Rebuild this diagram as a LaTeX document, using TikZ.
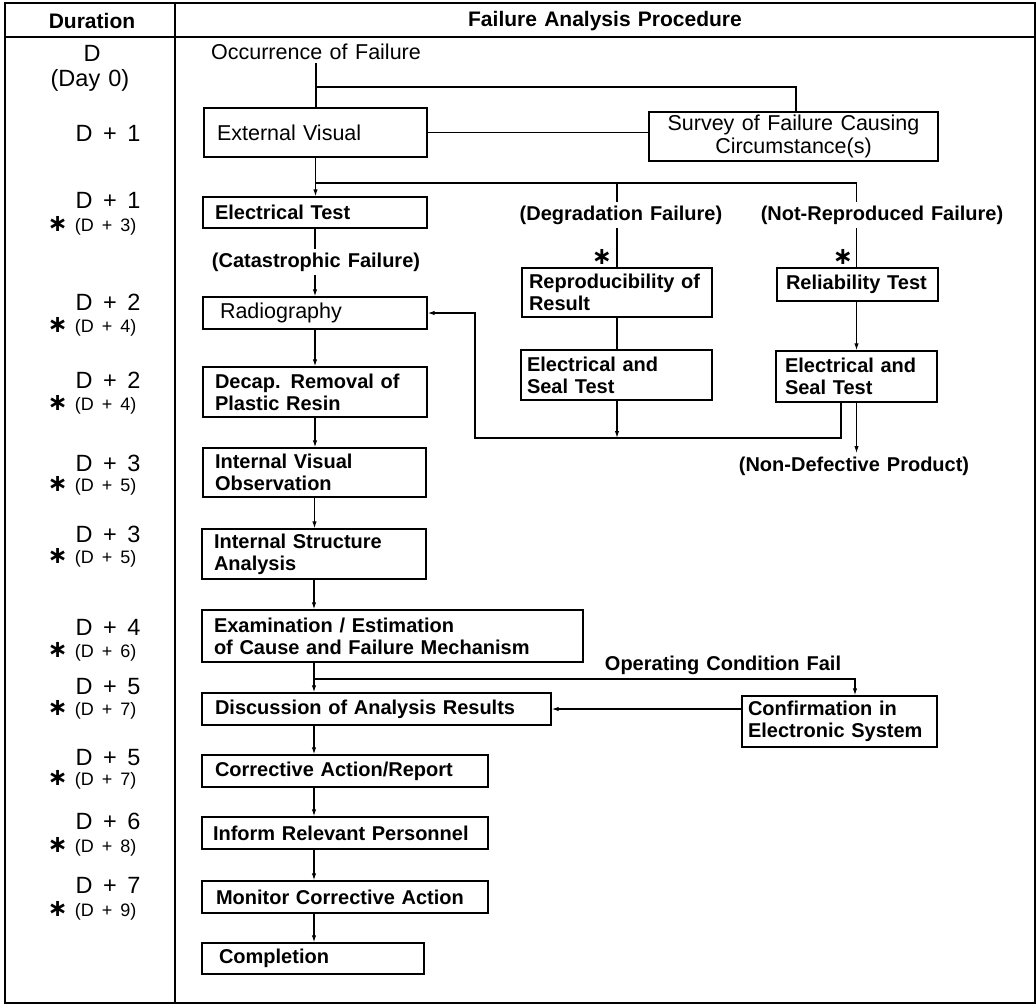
\documentclass[tikz,border=0pt]{standalone}
\usepackage{fontspec}
\setmainfont[WordSpace=1.25]{Liberation Sans}
\newfontfamily\symfont{DejaVu Sans}
\usetikzlibrary{arrows.meta}
% bold six-armed asterisk used as a footnote mark
\newcommand\astb{{\symfont\bfseries\fontsize{24}{24}\selectfont ∗}}
\newcommand\dplus[1]{D\hspace{0.45em}+\hspace{0.45em}#1}
\begin{document}
\begin{tikzpicture}[x=1pt,y=-1pt,
  frame/.style={line width=1.6pt},
  pbox/.style={draw, line width=1.3pt, align=left, inner ysep=0pt},
  lt/.style={font=\fontsize{21.5}{23}\selectfont},
  bf/.style={font=\fontsize{20}{22}\selectfont\bfseries},
  hd/.style={font=\fontsize{21}{22}\selectfont\bfseries},
  link/.style={line width=1.2pt},
  arr/.style={link, -{Latex[length=7pt,width=4.4pt]}},
  day/.style={anchor=east, font=\fontsize{23.5}{24}\selectfont},
  alt/.style={anchor=east, font=\fontsize{18}{20}\selectfont},
  star/.style={inner sep=0pt},
]
\useasboundingbox (0,0) rectangle (1036,1005);

% table frame
\draw[frame] (5,3) rectangle (1035,1003);
\draw[frame] (5,37) -- (1035,37);
\draw[frame] (175,3) -- (175,1003);

% headings
\node[hd] (hdur) at (92,21) {Duration};
\node[hd] (hproc) at (605,21) {Failure Analysis Procedure};

% duration column
\node[font=\fontsize{23.5}{24}\selectfont] (d0) at (92,53) {D};
\node[font=\fontsize{23.5}{24}\selectfont] (d0b) at (90,80) {(Day 0)};
\node[day] (d1) at (144,133) {\dplus{1}};
\node[day] (d2) at (144,200) {\dplus{1}};
\node[alt] (a2) at (140,226) {\astb\hspace{7pt}(\dplus{3})};
\node[day] (d3) at (144,302) {\dplus{2}};
\node[alt] (a3) at (140,327) {\astb\hspace{7pt}(\dplus{4})};
\node[day] (d4) at (144,380) {\dplus{2}};
\node[alt] (a4) at (140,405) {\astb\hspace{7pt}(\dplus{4})};
\node[day] (d5) at (144,463) {\dplus{3}};
\node[alt] (a5) at (140,486) {\astb\hspace{7pt}(\dplus{5})};
\node[day] (d6) at (144,534) {\dplus{3}};
\node[alt] (a6) at (140,558) {\astb\hspace{7pt}(\dplus{5})};
\node[day] (d7) at (144,627) {\dplus{4}};
\node[alt] (a7) at (140,652) {\astb\hspace{7pt}(\dplus{6})};
\node[day] (d8) at (144,687) {\dplus{5}};
\node[alt] (a8) at (140,710) {\astb\hspace{7pt}(\dplus{7})};
\node[day] (d9) at (144,758) {\dplus{5}};
\node[alt] (a9) at (140,780) {\astb\hspace{7pt}(\dplus{7})};
\node[day] (d10) at (144,821) {\dplus{6}};
\node[alt] (a10) at (140,847) {\astb\hspace{7pt}(\dplus{8})};
\node[day] (d11) at (144,885) {\dplus{7}};
\node[alt] (a11) at (140,911) {\astb\hspace{7pt}(\dplus{9})};

% procedure: main column
\node[lt] (occ) at (316,52) {Occurrence of Failure};
\node[pbox, lt, minimum width=223pt, minimum height=49pt, inner xsep=13pt, text width=197pt] (ev) at (315.5,132.5) {External Visual};
\node[pbox, lt, align=center, minimum width=289pt, minimum height=49pt] (sv) at (793.5,136.5) {Survey of Failure Causing\\Circumstance(s)};
\node[pbox, bf, minimum width=224pt, minimum height=31pt, inner xsep=12pt, text width=200pt] (et) at (315,212.5) {Electrical Test};
\node[bf] (cat) at (316,262) {(Catastrophic Failure)};
\node[pbox, lt, minimum width=224pt, minimum height=32pt, inner xsep=17pt, text width=190pt] (rad) at (315,313) {Radiography};
\node[pbox, bf, minimum width=224pt, minimum height=50pt, inner xsep=12pt, text width=200pt] (dec) at (315,392) {Decap. Removal of\\Plastic Resin};
\node[pbox, bf, minimum width=223pt, minimum height=49pt, inner xsep=12pt, text width=199pt] (iv) at (314.5,472.5) {Internal Visual\\Observation};
\node[pbox, bf, minimum width=224pt, minimum height=50pt, inner xsep=12pt, text width=200pt] (is) at (314,554) {Internal Structure\\Analysis};
\node[pbox, bf, minimum width=381pt, minimum height=52pt, inner xsep=12pt, text width=357pt] (ex) at (392.5,636) {Examination / Estimation\\of Cause and Failure Mechanism};
\node[pbox, bf, minimum width=349pt, minimum height=32pt, inner xsep=13pt, text width=323pt] (dis) at (376.5,709) {Discussion of Analysis Results};
\node[pbox, bf, minimum width=286pt, minimum height=32pt, inner xsep=13pt, text width=260pt] (cor) at (345,771) {Corrective Action/Report};
\node[pbox, bf, minimum width=286pt, minimum height=32pt, inner xsep=11pt, text width=264pt] (inf) at (345,833) {Inform Relevant Personnel};
\node[pbox, bf, minimum width=286pt, minimum height=32pt, inner xsep=14pt, text width=258pt] (mon) at (345,897) {Monitor Corrective Action};
\node[pbox, bf, minimum width=222pt, minimum height=31pt, inner xsep=17pt, text width=188pt] (com) at (313,958.5) {Completion};

% procedure: side branches
\node[bf] (deg) at (621,215) {(Degradation Failure)};
\node[bf] (nr) at (882,215) {(Not-Reproduced Failure)};
\node[star] (s1) at (602,257) {\astb};
\node[star] (s2) at (843,257) {\astb};
\node[pbox, bf, minimum width=190pt, minimum height=49pt, inner xsep=7pt, text width=176pt] (rep) at (617,292.5) {Reproducibility of\\Result};
\node[pbox, bf, minimum width=191pt, minimum height=50pt, inner xsep=6pt, text width=179pt] (esl) at (616.5,375) {Electrical and\\Seal Test};
\node[pbox, bf, minimum width=161pt, minimum height=33pt, inner xsep=9pt, text width=143pt] (rel) at (857.5,284.5) {Reliability Test};
\node[pbox, bf, minimum width=161pt, minimum height=51pt, inner xsep=9pt, text width=143pt] (esr) at (856.5,376.5) {Electrical and\\Seal Test};
\node[bf] (nd) at (854,466) {(Non-Defective Product)};
\node[bf] (opc) at (723,665) {Operating Condition Fail};
\node[pbox, bf, minimum width=195pt, minimum height=51pt, inner xsep=6pt, text width=183pt] (cf) at (839.5,721.5) {Confirmation in\\Electronic System};

% junctions
\coordinate (j1) at (316,87);
\coordinate (j2) at (316,183);
\coordinate (j4) at (315,679);
\coordinate (loopR) at (841,438);
\coordinate (loopL) at (475,438);

% connectors
\draw[link] (occ.south) -- (occ.south |- ev.north);
\draw[link] (j1) -| ([xshift=2.5pt]sv.north);
\draw[link] (ev.east) -- (ev.east -| sv.west);
\draw[arr] (ev.south) -- (ev.south |- et.north);
\draw[link] (j2) -| (deg.north -| rep.north);
\draw[link] (deg.south -| rep.north) -- (rep.north);
\draw[link] (j2) -| (nr.north -| esr.north);
\draw[link] (nr.south -| esr.north) -- (esr.north |- rel.north);
\draw[link] (et.south) -- (et.south |- cat.north);
\draw[arr] (cat.south -| et.south) -- (rad.north);
\draw[arr] (rad.south) -- (rad.south |- dec.north);
\draw[arr] (dec.south) -- (dec.south |- iv.north);
\draw[arr] (iv.south) -- (iv.south |- is.north);
\draw[arr] (is.south) -- (is.south |- ex.north);
\draw[arr] (ex.south -| is.south) -- (dis.north -| is.south);
\draw[arr] (j4) -| ([xshift=15.5pt]cf.north);
\draw[arr] (cf.west |- dis.east) -- (dis.east);
\draw[arr] (dis.south -| is.south) -- (cor.north -| is.south);
\draw[arr] (cor.south -| is.south) -- (inf.north -| is.south);
\draw[arr] (inf.south -| is.south) -- (mon.north -| is.south);
\draw[arr] (mon.south -| is.south) -- (com.north -| is.south);
\draw[link] (rep.south) -- (esl.north -| rep.south);
\draw[arr] (rel.south -| esr.north) -- (esr.north);
\draw[arr] (esl.south -| rep.south) -- (loopL -| rep.south);
\draw[arr] (esr.south -| loopR) -- (loopR) -- (loopL) |- (rad.east);
\draw[arr] (esr.south) -- (esr.south |- nd.north);
\end{tikzpicture}
\end{document}
